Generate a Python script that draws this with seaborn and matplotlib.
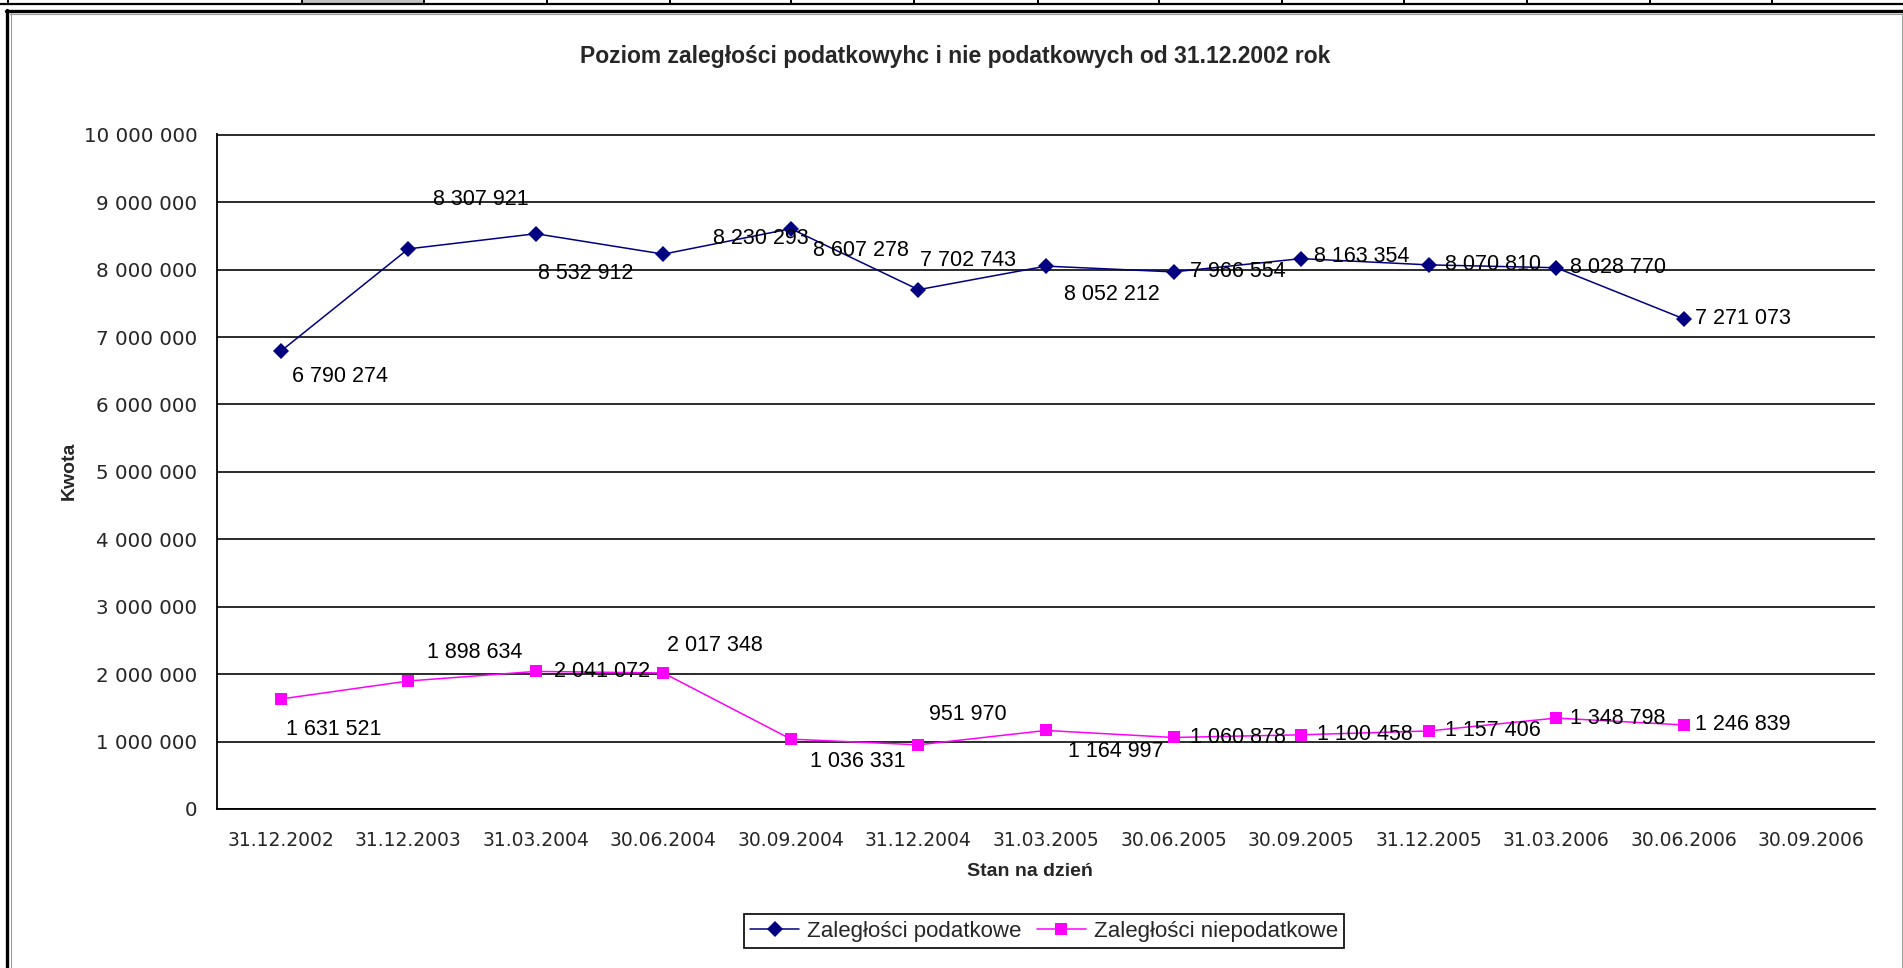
"""
Poziom zaległości podatkowych i niepodatkowych - odtworzenie wykresu z arkusza.
"""

import numpy as np
import pandas as pd
import matplotlib.pyplot as plt
import seaborn as sns
from matplotlib.lines import Line2D
from matplotlib.patches import Rectangle
from matplotlib.ticker import FuncFormatter, FixedLocator

# --- dane ---
dates = ['31.12.2002', '31.12.2003', '31.03.2004', '30.06.2004', '30.09.2004',
         '31.12.2004', '31.03.2005', '30.06.2005', '30.09.2005', '31.12.2005',
         '31.03.2006', '30.06.2006', '30.09.2006']
podatkowe = [6790274, 8307921, 8532912, 8230293, 8607278, 7702743,
             8052212, 7966554, 8163354, 8070810, 8028770, 7271073]
niepodatkowe = [1631521, 1898634, 2041072, 2017348, 1036331, 951970,
                1164997, 1060878, 1100458, 1157406, 1348798, 1246839]
series_names = ['Zaległości podatkowe', 'Zaległości niepodatkowe']
colors = ['#000080', '#FF00FF']

# przesunięcia etykiet danych (w pikselach) - tak jak rozłożył je Excel
offsets_pod = [(59, -25), (73, 49), (50, -40), (97, 16), (70, -22), (50, 29),
               (66, -28), (64, 0), (61, 2), (64, 0), (62, 0), (59, 0)]
offsets_niepod = [(53, -30), (66, 28), (66, 0), (51, 27), (67, -22), (49, 30),
                  (70, -21), (64, 0), (64, 0), (64, 0), (62, 0), (59, 0)]

W, H = 1903, 968


def fx(x):
    return x / W


def fy(y):
    return 1 - y / H


def fmt_space(v, _=None):
    return f"{int(round(v)):,}".replace(',', ' ')


sns.set_style('white')
plt.rcParams['font.family'] = ['DejaVu Sans']

n = len(podatkowe)
df = pd.DataFrame({
    'pos': list(range(n)) * 2,
    'value': podatkowe + niepodatkowe,
    'series': [series_names[0]] * n + [series_names[1]] * n,
})

fig = plt.figure(figsize=(W / 100, H / 100), dpi=100)
ax = fig.add_axes([fx(217), fy(809), fx(1875) - fx(217), fy(134) - fy(809)])

sns.lineplot(data=df, x='pos', y='value', hue='series', style='series',
             palette=dict(zip(series_names, colors)),
             markers={series_names[0]: 'D', series_names[1]: 's'},
             dashes=False, markersize=8.5, markeredgewidth=0,
             linewidth=1.1, ax=ax, legend=False)

# etykiety danych
for vals, offs in [(podatkowe, offsets_pod), (niepodatkowe, offsets_niepod)]:
    for i, (v, (dx, dy)) in enumerate(zip(vals, offs)):
        ax.annotate(fmt_space(v), (i, v), xytext=(dx, dy), textcoords='offset pixels',
                    ha='center', va='center', fontsize=15.5,
                    family='Liberation Sans', color='black')

# osie
ax.set_xlim(-0.5, len(dates) - 0.5)
ax.set_ylim(0, 10_012_000)
ax.yaxis.set_major_locator(FixedLocator(np.arange(0, 10_000_001, 1_000_000)))
ax.yaxis.set_major_formatter(FuncFormatter(fmt_space))
ax.xaxis.set_major_locator(FixedLocator(range(len(dates))))
ax.set_xticklabels(dates)
ax.xaxis.set_minor_locator(FixedLocator(np.arange(-0.5, len(dates), 1.0)))
ax.tick_params(axis='x', which='major', length=0, pad=16, labelsize=13.5)
ax.tick_params(axis='x', which='minor', length=4, width=1.2, direction='out', color='black')
ax.tick_params(axis='y', which='major', length=7, width=1.2, direction='out',
               color='black', pad=7, labelsize=14.3)
ax.yaxis.grid(True, color='#1a1a1a', linewidth=1.3)
ax.xaxis.grid(False)
for side in ['top', 'right']:
    ax.spines[side].set_visible(False)
for side in ['left', 'bottom']:
    ax.spines[side].set_color('black')
    ax.spines[side].set_linewidth(1.3)
ax.set_xlabel('')
ax.set_ylabel('')

# tytuły
fig.text(fx(955), fy(57), 'Poziom zaległości podatkowyhc i nie podatkowych od 31.12.2002 rok',
         ha='center', va='center', fontsize=16.5, fontweight='bold', family='Liberation Sans')
fig.text(fx(1030), fy(871), 'Stan na dzień', ha='center', va='center',
         fontsize=14, fontweight='bold', family='Liberation Sans')
fig.text(fx(69), fy(471), 'Kwota', ha='center', va='center', rotation=90,
         fontsize=14, fontweight='bold', family='Liberation Sans')

# legenda
handles = [Line2D([], [], color=colors[0], marker='D', markersize=8.5, markeredgewidth=0, lw=1.1),
           Line2D([], [], color=colors[1], marker='s', markersize=8.5, markeredgewidth=0, lw=1.1)]
leg = fig.legend(handles, series_names, loc='center', bbox_to_anchor=(fx(1044), fy(931)),
                 ncol=2, frameon=True, fancybox=False, framealpha=1, edgecolor='black',
                 prop={'family': 'Liberation Sans', 'size': 16}, handlelength=2.2,
                 handletextpad=0.35, columnspacing=0.7, borderpad=0.3)
leg.get_frame().set_linewidth(1.2)

# ramka obszaru wykresu i fragment arkusza nad nim
fig.add_artist(Rectangle((fx(302), fy(3)), fx(424) - fx(302), fy(0) - fy(3),
                         transform=fig.transFigure, facecolor='#c0c0c0', edgecolor='none'))
fig.add_artist(Line2D([0, 1], [fy(3.5), fy(3.5)], transform=fig.transFigure,
                      color='black', lw=1.6))
for cx in [8, 302, 424, 547, 670, 791, 914, 1038, 1159, 1282, 1404, 1527, 1650, 1772]:
    fig.add_artist(Line2D([fx(cx), fx(cx)], [fy(0), fy(4)], transform=fig.transFigure,
                          color='black', lw=1.4))
fig.add_artist(Line2D([fx(6), 1], [fy(11), fy(11)], transform=fig.transFigure,
                      color='black', lw=2.4))
fig.add_artist(Line2D([fx(7.5), fx(7.5)], [fy(10), 0], transform=fig.transFigure,
                      color='black', lw=2.4))
fig.add_artist(Line2D([fx(10), 1], [fy(13.5), fy(13.5)], transform=fig.transFigure,
                      color='#9a9a9a', lw=0.8))
fig.add_artist(Line2D([fx(10.5), fx(10.5)], [fy(13), 0], transform=fig.transFigure,
                      color='#9a9a9a', lw=0.8))
fig.add_artist(Line2D([fx(1902), fx(1902)], [fy(13), 0], transform=fig.transFigure,
                      color='#a0a0a0', lw=0.8))

fig.savefig('out.png', dpi=100)
plt.close(fig)
